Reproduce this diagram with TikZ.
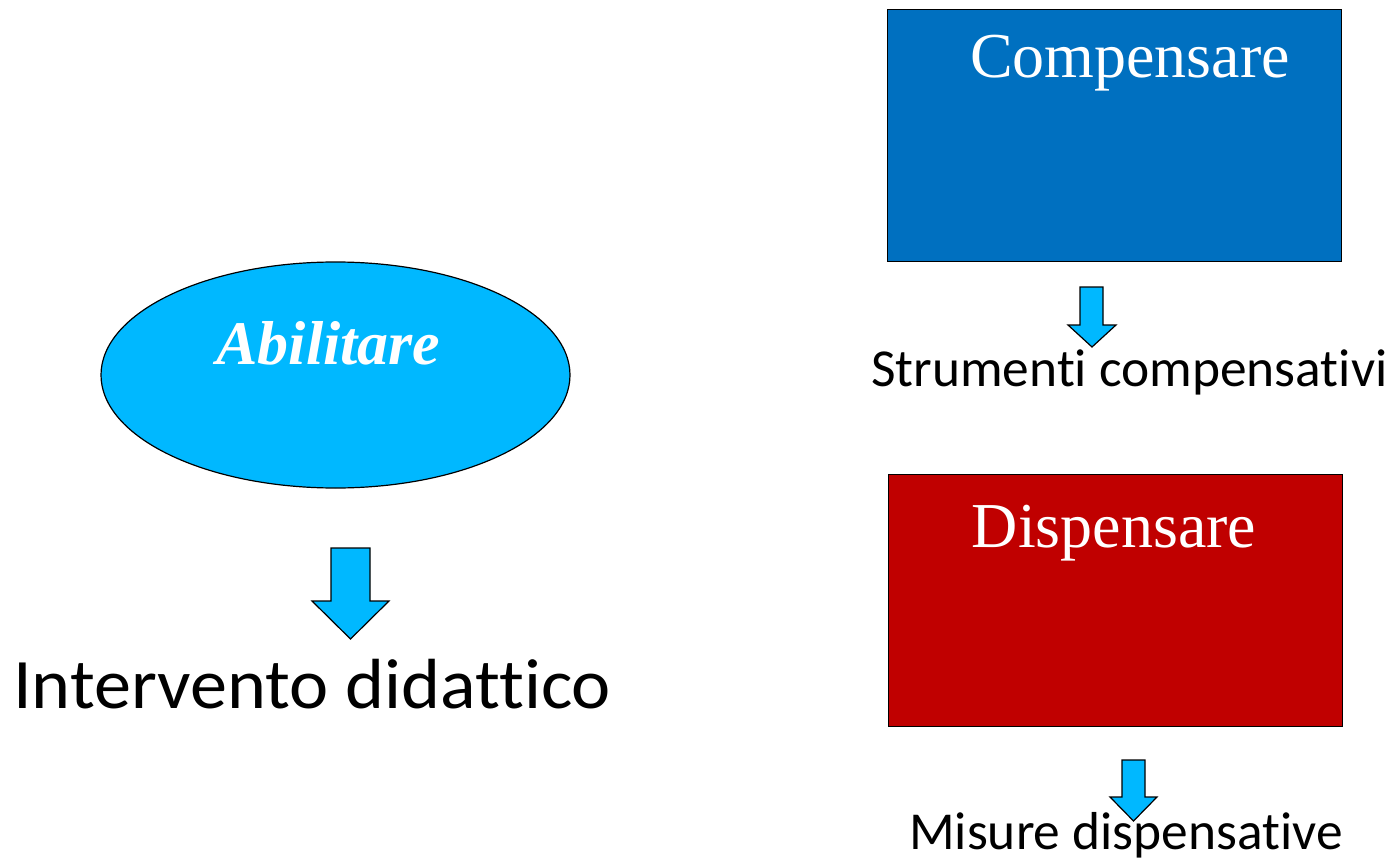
\documentclass[tikz,border=0pt]{standalone}
\usepackage{fontspec}
\setmainfont{Liberation Serif}
\newfontfamily\calibri[Ligatures={NoCommon,NoContextual}]{Carlito}
\usetikzlibrary{shapes.geometric}
\definecolor{cyanfill}{RGB}{0,184,255}
\definecolor{bluefill}{RGB}{0,112,192}
\definecolor{redfill}{RGB}{192,0,0}
\tikzset{
  outl/.style={draw=black,line width=1.2pt},
  blockarrow/.style={outl,fill=cyanfill,line join=miter},
  boxtitle/.style={text=white,inner sep=0pt,anchor=base,font=\fontsize{64}{70}\selectfont},
  label/.style={text=black,inner sep=0pt,anchor=base west},
}
\begin{document}
\begin{tikzpicture}[x=1pt,y=-1pt]
\useasboundingbox (0,0) rectangle (1395,861);
% ellipse
\node[ellipse,outl,fill=cyanfill,minimum width=469pt,minimum height=226pt,inner sep=0pt] (abil) at (335.5,375) {};
\node[boxtitle,font=\fontsize{62}{66}\selectfont\bfseries\itshape] (abiltxt) at (328.5,364) {Abilitare};
% left arrow
\draw[blockarrow] (331,548) -- (370,548) -- (370,601) -- (389,601) -- (350.5,639) -- (312,601) -- (331,601) -- cycle;
\node[label,font=\calibri\fontsize{71}{80}\selectfont] (interv) at (13,708) {\scalebox{1.045}[1]{Intervento didattico}};
% blue box
\node[outl,fill=bluefill,minimum width=454pt,minimum height=252pt,inner sep=0pt,anchor=north west] (comp) at (887,9) {};
\node[boxtitle] (comptxt) at (1130,78) {Compensare};
\draw[blockarrow] (1080,287) -- (1103,287) -- (1103,325) -- (1116,325) -- (1092,347) -- (1068,325) -- (1080,325) -- cycle;
\node[label,font=\calibri\fontsize{53.4}{60}\selectfont] (strum) at (871,386) {Strumenti compensativi};
% red box
\node[outl,fill=redfill,minimum width=454pt,minimum height=252pt,inner sep=0pt,anchor=north west] (disp) at (888,474) {};
\node[boxtitle] (disptxt) at (1114,547) {Dispensare};
\draw[blockarrow] (1122,760) -- (1145,760) -- (1145,797) -- (1157,797) -- (1133.5,821) -- (1110,797) -- (1122,797) -- cycle;
\node[label,font=\calibri\fontsize{53.4}{60}\selectfont] (misure) at (909,849) {Misure dispensative};
\end{tikzpicture}
\end{document}
